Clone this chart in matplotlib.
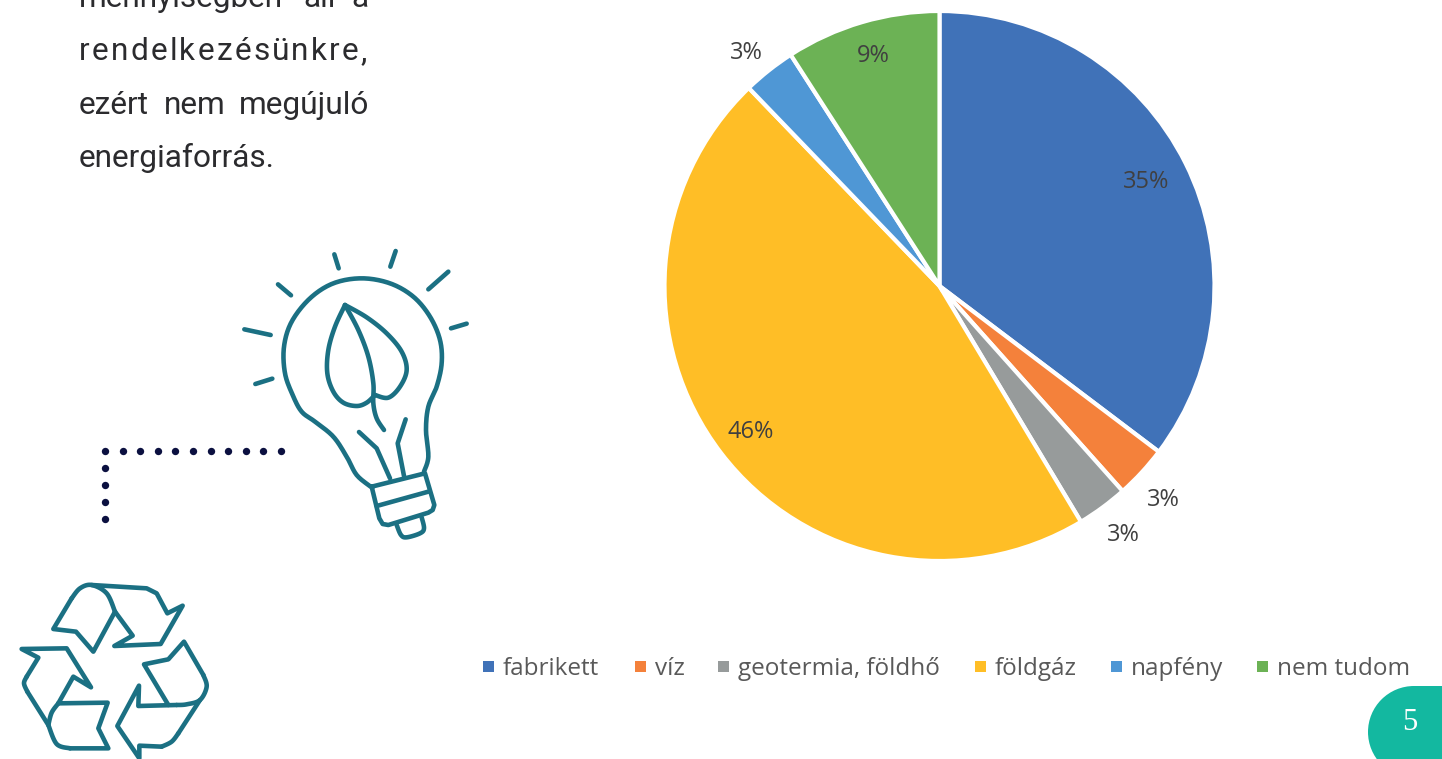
import matplotlib
matplotlib.use("Agg")
import matplotlib.pyplot as plt
import numpy as np
from matplotlib.font_manager import FontProperties
from matplotlib.patches import Circle, Rectangle
from matplotlib.textpath import TextPath

categories = ["fabrikett", "víz", "geotermia, földhő", "földgáz", "napfény", "nem tudom"]
values = [35.3, 3.1, 3.0, 46.4, 3.1, 9.1]
colors = ["#4072b8", "#f4813b", "#979b9b", "#ffbe26", "#4f97d5", "#6cb255"]
small_slices = [1, 2, 4]

W, H = 1442, 759
TEAL = "#1b7083"
NAVY = "#0b1040"

fig = plt.figure(figsize=(W / 100, H / 100), dpi=100)
ax = fig.add_axes([0, 0, 1, 1])
ax.set_xlim(0, W)
ax.set_ylim(H, 0)
ax.axis("off")


def smooth(points, n=12):
    # Catmull-Rom through the traced points, only used for the icons
    p = np.array(points, dtype=float)
    p = np.vstack([p[0], p, p[-1]])
    out = []
    for i in range(1, len(p) - 2):
        for t in np.linspace(0, 1, n, endpoint=False):
            out.append(0.5 * (2 * p[i] + (p[i + 1] - p[i - 1]) * t
                              + (2 * p[i - 1] - 5 * p[i] + 4 * p[i + 1] - p[i + 2]) * t ** 2
                              + (3 * p[i] - p[i - 1] - 3 * p[i + 1] + p[i + 2]) * t ** 3))
    out.append(p[-2])
    return np.array(out)


def stroke(points, ox, oy, curved=False, lw=3.3):
    # icon points were traced at 3x zoom
    p = smooth(points) if curved else np.array(points, dtype=float)
    ax.plot(ox + p[:, 0] / 3, oy + p[:, 1] / 3, color=TEAL, lw=lw,
            solid_capstyle="round", solid_joinstyle="round")


# left column text
body = FontProperties(family="Roboto", size=22.8)
text_color = "#2b2b2e"
for word, x, y in [("mennyiségben", 79, 7), ("áll", 303, 7), ("a", 351, 7),
                   ("ezért", 79, 114), ("nem", 164, 114), ("megújuló", 239, 114),
                   ("energiaforrás.", 79, 167)]:
    ax.text(x, y, word, fontproperties=body, color=text_color, va="baseline", ha="left")

# letter-spaced line
spaced = "rendelkezésünkre,"
advances = [TextPath((0, 0), c + "n", prop=body).get_extents().x1
            - TextPath((0, 0), "n", prop=body).get_extents().x1 for c in spaced]
advances = [a * 100 / 72 for a in advances]
gap = (288 - sum(advances)) / (len(spaced) - 1)
x = 79
for c, a in zip(spaced, advances):
    ax.text(x, 60, c, fontproperties=body, color=text_color, va="baseline", ha="left")
    x += a + gap

# dotted corner
dots_x = [105 + i * 17.6 for i in range(11)] + [105] * 4
dots_y = [451] * 11 + [468, 485, 502, 519]
ax.scatter(dots_x, dots_y, s=28, color=NAVY, linewidths=0)

# bulb icon
bx, by = 0, 230
stroke([(1272, 725), (1285, 680), (1278, 600), (1285, 530), (1310, 470), (1325, 400),
        (1320, 330), (1290, 260), (1240, 200), (1170, 160), (1085, 145), (1000, 160),
        (930, 205), (875, 275), (852, 350), (855, 430), (878, 495), (905, 545), (945, 575),
        (1000, 620), (1040, 680), (1070, 735), (1112, 770)], bx, by, curved=True)
stroke([(1115, 770), (1275, 730), (1303, 825), (1298, 840), (1285, 848), (1165, 885),
        (1148, 882), (1138, 865), (1115, 770)], bx, by)
stroke([(1130, 828), (1285, 785)], bx, by)
stroke([(1190, 885), (1203, 915), (1220, 922), (1260, 910), (1272, 895), (1265, 862)], bx, by, curved=True)
stroke([(1035, 225), (1005, 290), (985, 360), (982, 430), (1000, 485), (1030, 518),
        (1070, 528), (1100, 518), (1125, 495)], bx, by, curved=True)
stroke([(1125, 495), (1165, 503), (1200, 470), (1220, 420), (1205, 365), (1160, 310),
        (1100, 262), (1035, 225)], bx, by, curved=True)
stroke([(1035, 225), (1075, 300), (1105, 380), (1120, 460), (1120, 520), (1130, 565),
        (1152, 600)], bx, by, curved=True)
stroke([(1077, 606), (1130, 655), (1170, 745)], bx, by)
stroke([(1217, 568), (1193, 640), (1212, 738)], bx, by)
for ray in [[(1003, 73), (1016, 115)], [(1187, 63), (1171, 110)], [(1345, 125), (1285, 178)],
            [(1400, 281), (1353, 295)], [(733, 298), (812, 315)], [(834, 163), (873, 196)],
            [(817, 446), (766, 462)]]:
    stroke(ray, bx, by)

# recycle icon
rx, ry = 0, 570
stroke([(345, 125), (280, 245), (228, 185), (160, 177), (215, 85)], rx, ry)
stroke([(215, 85), (240, 55), (275, 45), (320, 70), (345, 125)], rx, ry, curved=True)
stroke([(275, 45), (440, 55), (470, 70), (502, 130), (548, 107), (482, 222), (343, 228),
        (398, 197), (345, 125)], rx, ry)
stroke([(175, 400), (220, 320), (273, 352), (200, 235), (65, 237), (115, 263), (80, 320)], rx, ry)
stroke([(80, 320), (72, 340), (82, 365)], rx, ry, curved=True)
stroke([(82, 365), (145, 465)], rx, ry)
stroke([(145, 465), (155, 428), (175, 400)], rx, ry, curved=True)
stroke([(175, 400), (323, 398), (295, 475), (325, 535), (210, 535)], rx, ry)
stroke([(210, 535), (170, 522), (145, 465)], rx, ry, curved=True)
stroke([(505, 405), (432, 283), (505, 268), (552, 215), (610, 315)], rx, ry)
stroke([(610, 315), (620, 350), (600, 390), (560, 403), (530, 405)], rx, ry, curved=True)
stroke([(530, 405), (415, 408), (417, 347), (352, 468), (418, 565), (418, 527), (485, 530)], rx, ry)
stroke([(485, 530), (515, 515), (535, 490)], rx, ry, curved=True)
stroke([(535, 490), (600, 390)], rx, ry)

# legend
legend_font = FontProperties(family="Open Sans", size=17.5)
legend_x = [483, 635, 718, 975, 1111, 1257]
for name, color, x in zip(categories, colors, legend_x):
    ax.add_patch(Rectangle((x, 660.5), 11, 11, color=color, lw=0))
    ax.text(x + 20, 666, name, fontproperties=legend_font, color="#595959", va="center_baseline", ha="left")

# page number
ax.add_patch(Circle((1414, 732), 46, color="#13b8a0", lw=0))
ax.add_patch(Rectangle((1414, 686), 28, 73, color="#13b8a0", lw=0))
ax.text(1410, 723, "5", family="Liberation Serif", size=22, color="white", ha="center", va="center")

# pie
cx, cy, r = 939.5, 286, 275
half = r * 1.25
pie_ax = fig.add_axes([(cx - half) / W, 1 - (cy + half) / H, 2 * half / W, 2 * half / H])
pie_ax.patch.set_alpha(0)
wedges, _, pct_labels = pie_ax.pie(
    values, colors=colors, startangle=90, counterclock=False, autopct="%.0f%%",
    pctdistance=0.86, wedgeprops={"edgecolor": "white", "linewidth": 3},
    textprops={"family": "Open Sans", "size": 17, "color": "#404040"})
for i in small_slices:
    px, py = pct_labels[i].get_position()
    pct_labels[i].set_position((px * 1.115 / 0.86, py * 1.115 / 0.86))

# small pixel nudges so the labels sit where the original has them
nudges = [(-5, -1), (-2, -6), (2, -2), (-1, -2), (-3, -7), (1, 3)]
for label, (dx, dy) in zip(pct_labels, nudges):
    px, py = label.get_position()
    label.set_position((px + dx / r, py + dy / r))

fig.savefig("out.png", dpi=100)
